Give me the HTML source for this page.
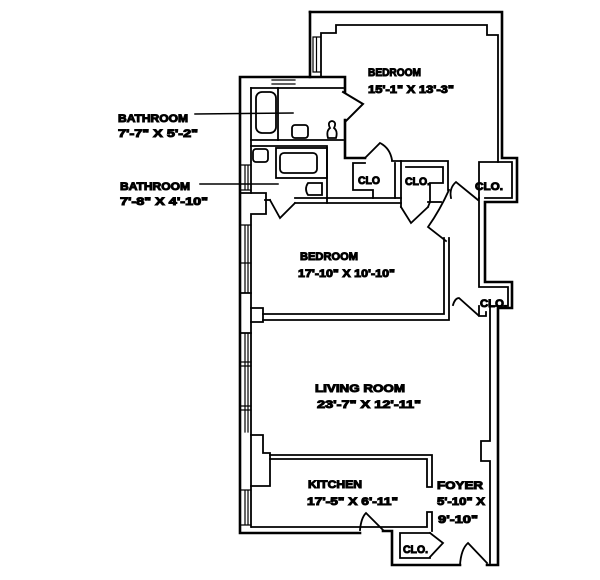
<!DOCTYPE html>
<html><head><meta charset="utf-8"><style>
html,body{margin:0;padding:0;background:#fff;}
svg{display:block;}
text{font-family:"Liberation Sans",sans-serif;font-weight:bold;fill:#000;}
</style></head><body>
<svg width="600" height="580" viewBox="0 0 600 580" xmlns="http://www.w3.org/2000/svg">
<rect width="600" height="580" fill="#fff"/>
<g fill="none" stroke="#000" stroke-linejoin="miter" stroke-linecap="square">
<!-- outer perimeter -->
<g stroke-width="2.6">
<path d="M310,12 L502,12 L502,158 L517,158 L517,202 L485,202 L485,282 L512,282 L512,308 L498,308 L498,565 L487,565"/>
<path d="M460,565 L392,565 L392,531 L383,531"/>
<path d="M360,533 L240,533 L240,77 L345,77 L345,92"/>
<path d="M310,12 L310,77"/>
<path d="M345,120 L345,158 L365,158"/>
</g>
<!-- upper bedroom inner -->
<g stroke-width="1.8">
<path d="M321,77 L321,33 L336,33 L336,25 L487,25 L487,35 L498,35 L498,162"/>
<path d="M479,198 L479,162 L512,162 L512,198 L485,198"/>
<path d="M479,198 L479,287 L508,287 L508,306 L490,306 L490,441 L481,441 L481,461 L490,461 L490,563"/>
<path d="M479,306 L479,316 L486,316 L486,312"/>
<!-- bedroom window -->
<path d="M313,37 L313,72 M316.5,37 L316.5,72 M313,37 L320,37 M313,72 L320,72" stroke-width="1.2"/>
<!-- bath top window -->
<path d="M272,80 L295,80 M272,84 L295,84" stroke-width="1.2"/>
<!-- bath1 -->
<path d="M251,88 L343,88"/>
<path d="M251,88 L251,193"/>
<path d="M278,88 L278,140"/>
<path d="M251,140 L343,140"/>
<path d="M251,146 L327,146 L327,203"/>
<rect x="256" y="92" width="20" height="41" rx="6"/>
<rect x="292" y="125" width="16" height="13" rx="3"/>
<path d="M328,138 L336,138 Q338,131 334,128 Q337,122 332,121 Q327,122 330,128 Q326,131 328,138 Z"/>
<!-- bath1 door -->
<path d="M343,92 L363,104 L346,121" stroke-width="2"/>
<!-- bath2 fixtures -->
<rect x="253" y="149" width="15" height="13" rx="3"/>
<rect x="276" y="148" width="51" height="30"/>
<rect x="280" y="153" width="37" height="20" rx="4"/>
<path d="M308,183 L322,183 L322,195 L308,195 Q304,189 308,183 Z"/>
<!-- left stub box -->
<path d="M240,193 L266,193 L266,214 L251,214 L251,527"/>
<!-- bath2 bottom walls -->
<path d="M265,200 L270,200"/>
<path d="M270,200 L280,218 L295,203" stroke-width="1.8"/>
<path d="M295,198 L401,198 M295,203 L401,203"/>
<!-- closets middle -->
<path d="M365,158 L380,143 Q390,148 392,160"/>
<path d="M392,161 L448,161 L448,190"/>
<path d="M353,163 L365,163 M353,163 L353,190 L373,190 L373,198 M395,163 L395,198"/>
<path d="M401,161 L401,207"/>
<path d="M406,167 L443,167 L443,183 L430,183 L430,202 L428,207"/>
<path d="M401,207 L411,223 L428,207"/>
<path d="M428,202 L441,202"/>
<!-- bedroom door (from hall) -->
<path d="M449,190 Q440,210 428,227 L446,241"/>
<!-- top right bedroom door -->
<path d="M478,200 L456,182 Q449,188 451,198"/>
<!-- middle bedroom walls -->
<path d="M444,238 L444,314 L263,314 M449,238 L449,320 L263,320"/>
<path d="M251,293 L241,293 M251,308 L263,308 L263,322 L251,322 M251,333 L241,333"/>
<!-- living/kitchen column -->
<path d="M251,435 L263,435 L263,453 L270,453 L270,486 L251,486"/>
<path d="M270,455 L432,455 L432,487 M270,459 L427,459 L427,487 L432,487"/>
<path d="M427,512 L432,512 L432,531 M427,512 L427,527 L252,527"/>
<!-- kitchen door -->
<path d="M360,530 Q361,518 366,513 L383,530"/>
<!-- bottom closet -->
<path d="M400,558 L400,533 L430,533 M400,558 L430,558"/>
<path d="M430,533 L443,543 L430,557"/>
<!-- entrance door -->
<path d="M460,565 Q461,549 468,543 L487,563"/>
<!-- lower right CLO door -->
<path d="M453,305 Q455,298 459,298 L478,315"/>
<!-- leaders -->
<path d="M195,114 L293,113" stroke-width="1.5"/>
<path d="M200,184 L278,184" stroke-width="1.5"/>
</g>
<!-- windows in left wall -->
<g fill="none" stroke="#000" stroke-width="1.2">
<path d="M245,165 L245,190 M248,165 L248,190 M241,165 L251,165 M241,190 L251,190"/>
<path d="M245,225 L245,292 M248,225 L248,292 M241,225 L251,225 M241,263 L251,263"/>
<path d="M245,334 L245,432 M248,334 L248,432 M241,362 L251,362 M241,366 L251,366 M241,406 L251,406 M241,410 L251,410"/>
<path d="M245,490 L245,525 M248,490 L248,525 M241,490 L251,490 M241,525 L251,525"/>
</g>
<!-- labels -->
<g font-size="11">
<text x="368" y="76" textLength="53" lengthAdjust="spacingAndGlyphs">BEDROOM</text>
<text x="368" y="93" textLength="86" lengthAdjust="spacingAndGlyphs">15'-1" X 13'-3"</text>
<text x="118" y="122" textLength="70" lengthAdjust="spacingAndGlyphs">BATHROOM</text>
<text x="118" y="137" textLength="80" lengthAdjust="spacingAndGlyphs">7'-7" X 5'-2"</text>
<text x="120" y="190" textLength="70" lengthAdjust="spacingAndGlyphs">BATHROOM</text>
<text x="120" y="205" textLength="88" lengthAdjust="spacingAndGlyphs">7'-8" X 4'-10"</text>
<text x="358" y="184" textLength="22" lengthAdjust="spacingAndGlyphs">CLO</text>
<text x="405" y="185" textLength="25" lengthAdjust="spacingAndGlyphs">CLO.</text>
<text x="475" y="190" textLength="28" lengthAdjust="spacingAndGlyphs">CLO.</text>
<text x="480" y="307" textLength="27" lengthAdjust="spacingAndGlyphs">CLO.</text>
<text x="300" y="260" textLength="58" lengthAdjust="spacingAndGlyphs">BEDROOM</text>
<text x="298" y="277" textLength="97" lengthAdjust="spacingAndGlyphs">17'-10" X 10'-10"</text>
<text x="315" y="392" textLength="90" lengthAdjust="spacingAndGlyphs">LIVING ROOM</text>
<text x="317" y="408" textLength="104" lengthAdjust="spacingAndGlyphs">23'-7" X 12'-11"</text>
<text x="308" y="488" textLength="54" lengthAdjust="spacingAndGlyphs">KITCHEN</text>
<text x="307" y="505" textLength="91" lengthAdjust="spacingAndGlyphs">17'-5" X 6'-11"</text>
<text x="437" y="489" textLength="46" lengthAdjust="spacingAndGlyphs">FOYER</text>
<text x="437" y="505" textLength="48" lengthAdjust="spacingAndGlyphs">5'-10" X</text>
<text x="438" y="523" textLength="40" lengthAdjust="spacingAndGlyphs">9'-10"</text>
<text x="403" y="553" textLength="25" lengthAdjust="spacingAndGlyphs">CLO.</text>
</g>
</svg>
</body></html>
